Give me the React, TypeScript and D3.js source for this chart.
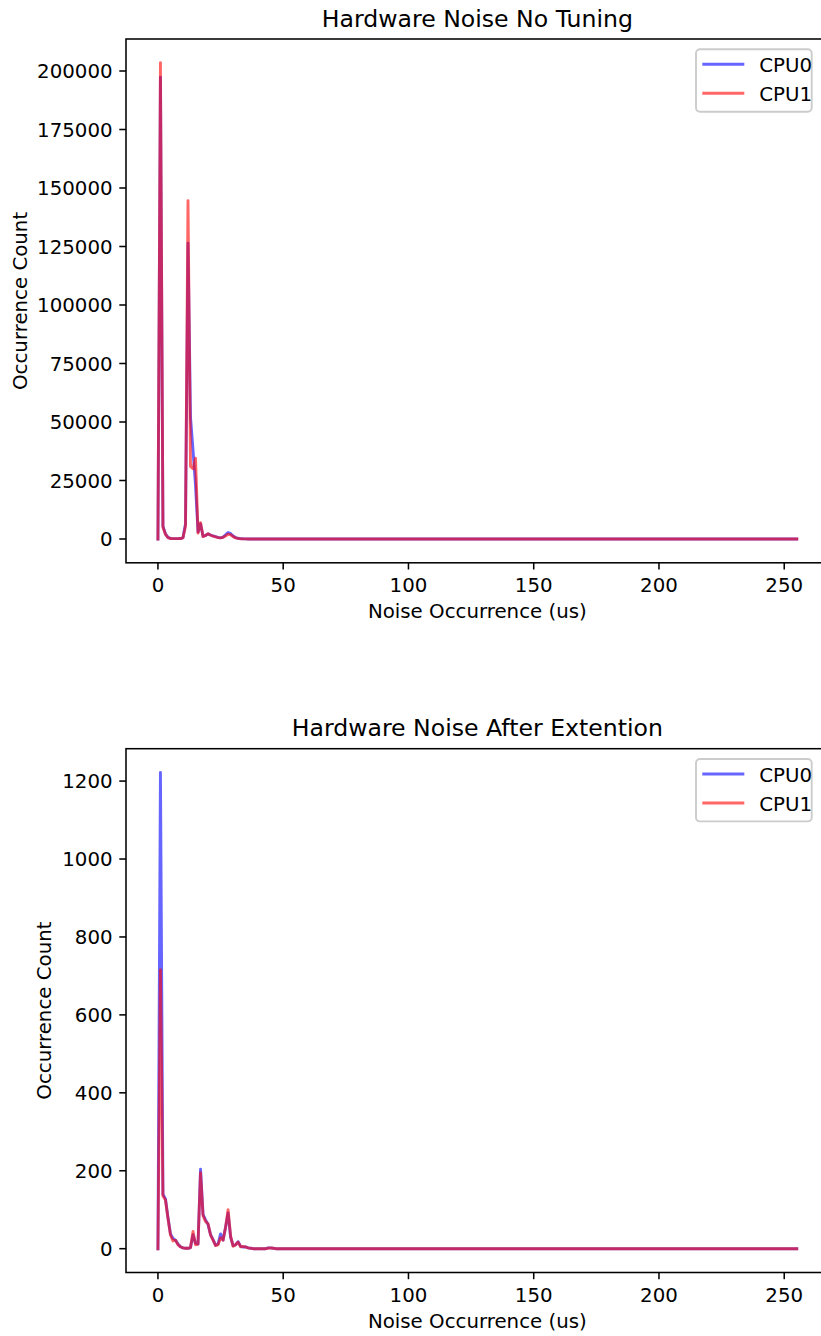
import React, { useEffect, useRef } from 'react';
import * as d3 from 'd3';

const WIDTH = 821;
const HEIGHT = 1336;
const FONT = '"DejaVu Sans", sans-serif';

// noise bins in us, 0..255. Values past the ones listed read as 0 on the plot.
const BIN_COUNT = 256;
const noiseBins = d3.range(BIN_COUNT);

const noTuningCpu0 = [
  0, 197300, 5500, 2200, 700, 250, 150, 150, 150, 200,
  600, 6500, 126400, 52000, 38000, 23000, 3000, 6500, 1200, 1500,
  2200, 1700, 1300, 1000, 700, 500, 800, 1800, 2800, 2300,
  1300, 600, 300, 150, 80, 40, 20, 10,
];
const noTuningCpu1 = [
  0, 203500, 5000, 2000, 600, 200, 150, 150, 150, 200,
  500, 5500, 144600, 31000, 30000, 34500, 2500, 7000, 1000, 1500,
  2300, 1600, 1200, 900, 600, 500, 700, 1300, 2000, 1800,
  1000, 500, 250, 120, 60, 30, 15, 5,
];
const extentionCpu0 = [
  0, 1222, 140, 128, 80, 38, 26, 22, 12, 5,
  2, 1, 1, 3, 36, 14, 12, 204, 88, 74,
  62, 36, 23, 9, 12, 38, 22, 55, 92, 30,
  8, 10, 18, 6, 4, 5, 2, 1, 0, 0,
  0, 0, 0, 0, 2, 2, 1,
];
const extentionCpu1 = [
  0, 715, 135, 125, 78, 35, 20, 22, 10, 5,
  2, 1, 1, 3, 44, 10, 12, 195, 85, 70,
  64, 35, 22, 8, 10, 28, 22, 55, 100, 32,
  6, 10, 17, 5, 6, 4, 2, 1, 0, 0,
  0, 0, 0, 0, 1, 2, 1,
];

const seriesNames = ['CPU0', 'CPU1'];
const seriesColors = ['blue', 'red'];
const xTicks = [0, 50, 100, 150, 200, 250];
const noTuningYTicks = [0, 25000, 50000, 75000, 100000, 125000, 150000, 175000, 200000];
const extentionYTicks = [0, 200, 400, 600, 800, 1000, 1200];

const pad = (head: number[]) => head.concat(new Array(BIN_COUNT - head.length).fill(0));

// matplotlib-ish sizes at this figure's dpi
const TICK_FONT = 19.8;
const TITLE_FONT = 23.6;
const TICK_LEN = 6.7;
const SPINE_W = 1.54;
const LINE_W = 2.9;

const LEFT = 126;
const RIGHT = 828.7;

function drawPanel(svg, opts) {
  const { top, bottom, title, series, yTicks, yLabelX } = opts;
  const g = svg.append('g');

  const x = d3.scaleLinear()
    .domain([-0.05 * 255, 255 * 1.05])
    .range([LEFT, RIGHT]);

  const maxVal = d3.max(series, (s: number[]) => d3.max(s));
  const y = d3.scaleLinear()
    .domain([-0.05 * maxVal, 1.05 * maxVal])
    .range([bottom, top]);

  const line = d3.line<number>()
    .x((d, i) => x(noiseBins[i]))
    .y(d => y(d));

  series.forEach((s, i) => {
    g.append('path')
      .datum(s)
      .attr('d', line)
      .attr('fill', 'none')
      .attr('stroke', seriesColors[i])
      .attr('stroke-opacity', 0.6)
      .attr('stroke-width', LINE_W)
      .attr('stroke-linejoin', 'round')
      .attr('stroke-linecap', 'square');
  });

  // spines
  g.append('rect')
    .attr('x', LEFT)
    .attr('y', top)
    .attr('width', RIGHT - LEFT)
    .attr('height', bottom - top)
    .attr('fill', 'none')
    .attr('stroke', 'black')
    .attr('stroke-width', SPINE_W);

  // x ticks
  xTicks.forEach(t => {
    g.append('line')
      .attr('x1', x(t)).attr('x2', x(t))
      .attr('y1', bottom).attr('y2', bottom + TICK_LEN)
      .attr('stroke', 'black').attr('stroke-width', SPINE_W);
    g.append('text')
      .attr('x', x(t))
      .attr('y', bottom + 29)
      .attr('text-anchor', 'middle')
      .style('font-size', TICK_FONT + 'px')
      .text(t);
  });

  // y ticks
  yTicks.forEach(t => {
    g.append('line')
      .attr('x1', LEFT).attr('x2', LEFT - TICK_LEN)
      .attr('y1', y(t)).attr('y2', y(t))
      .attr('stroke', 'black').attr('stroke-width', SPINE_W);
    g.append('text')
      .attr('x', LEFT - 2 * TICK_LEN)
      .attr('y', y(t))
      .attr('dy', '0.36em')
      .attr('text-anchor', 'end')
      .style('font-size', TICK_FONT + 'px')
      .text(d3.format('d')(t));
  });

  g.append('text')
    .attr('x', (LEFT + RIGHT) / 2)
    .attr('y', top - 12.3)
    .attr('text-anchor', 'middle')
    .style('font-size', TITLE_FONT + 'px')
    .text(title);

  g.append('text')
    .attr('x', (LEFT + RIGHT) / 2)
    .attr('y', bottom + 55.5)
    .attr('text-anchor', 'middle')
    .style('font-size', TICK_FONT + 'px')
    .text('Noise Occurrence (us)');

  const midY = (top + bottom) / 2;
  g.append('text')
    .attr('transform', `translate(${yLabelX},${midY}) rotate(-90)`)
    .attr('text-anchor', 'middle')
    .style('font-size', TICK_FONT + 'px')
    .text('Occurrence Count');

  // legend, upper right
  const lg = g.append('g').attr('transform', `translate(696,${top + 10.3})`);
  lg.append('rect')
    .attr('width', 115.7)
    .attr('height', 62.4)
    .attr('rx', 4)
    .attr('fill', 'white')
    .attr('fill-opacity', 0.8)
    .attr('stroke', '#cccccc')
    .attr('stroke-width', 1.9);
  seriesNames.forEach((name, i) => {
    const ly = 15 + i * 29;
    lg.append('line')
      .attr('x1', 6.3).attr('x2', 48.3)
      .attr('y1', ly).attr('y2', ly)
      .attr('stroke', seriesColors[i])
      .attr('stroke-opacity', 0.6)
      .attr('stroke-width', LINE_W);
    lg.append('text')
      .attr('x', 63.3)
      .attr('y', ly + 8)
      .style('font-size', TICK_FONT + 'px')
      .text(name);
  });
}

export default function App() {
  const ref = useRef<SVGSVGElement>(null);

  useEffect(() => {
    const svg = d3.select(ref.current);
    svg.selectAll('*').remove();

    svg.append('rect').attr('width', WIDTH).attr('height', HEIGHT).attr('fill', 'white');

    drawPanel(svg, {
      top: 39,
      bottom: 562.8,
      title: 'Hardware Noise No Tuning',
      series: [pad(noTuningCpu0), pad(noTuningCpu1)],
      yTicks: noTuningYTicks,
      yLabelX: 26.5,
    });

    drawPanel(svg, {
      top: 748.7,
      bottom: 1272.5,
      title: 'Hardware Noise After Extention',
      series: [pad(extentionCpu0), pad(extentionCpu1)],
      yTicks: extentionYTicks,
      yLabelX: 50.5,
    });
  }, []);

  return (
    <svg
      ref={ref}
      width={WIDTH}
      height={HEIGHT}
      style={{ position: 'absolute', left: 0, top: 0, fontFamily: FONT }}
    />
  );
}
